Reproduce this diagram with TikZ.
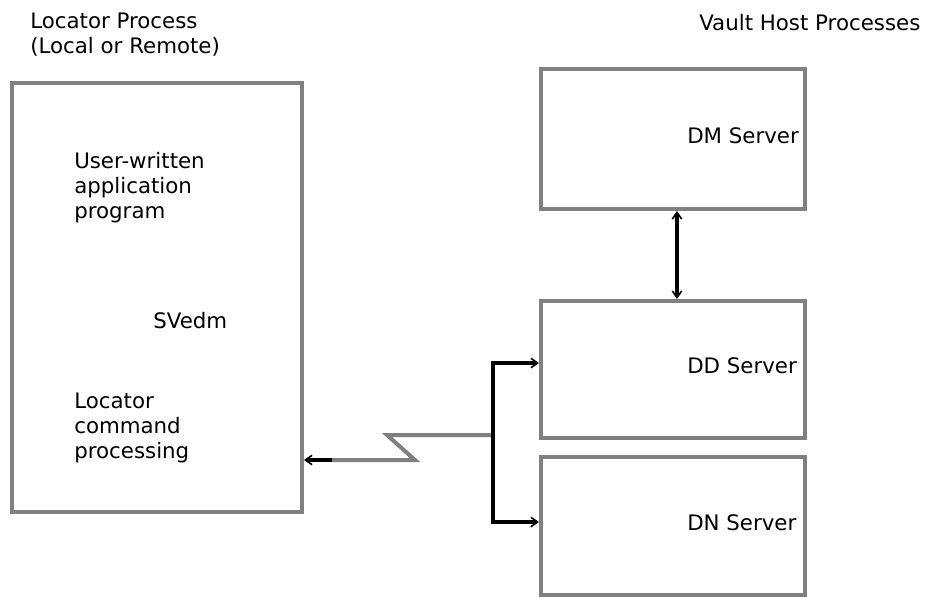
\documentclass[tikz,border=0pt]{standalone}
\usepackage{fontspec}
\setmainfont{DejaVu Sans}
\usetikzlibrary{arrows.meta}
\definecolor{boxgray}{rgb}{0.5, 0.5, 0.5}

\begin{document}
\begin{tikzpicture}[x=0.75pt,y=-0.75pt,
		font=\fontsize{16}{18.75}\selectfont,
		proc/.style={draw=boxgray,line width=3pt,minimum width=198pt,inner sep=0pt},
		txt/.style={anchor=base west,align=left,inner sep=0pt},
		barb/.tip={Straight Barb[length=5pt,width=7pt,line width=1.2pt]},
		link/.style={line width=3pt,color=black}]
		\useasboundingbox (0,0) rectangle (927,597);
		% locator side (base of a block = its last line)
		\node[proc, minimum width=217.5pt, minimum height=321.75pt] (loc) at (157,297.5) {};
		\node[txt] (loctitle) at (30,53) {Locator Process\\(Local or Remote)};
		\node[txt] (app) at (74,218) {User-written\\application\\program};
		\node[txt] (svedm) at (153,328) {SVedm};
		\node[txt] (cmd) at (74,458) {Locator\\command\\processing};
		% vault host side
		\node[txt] (vaulttitle) at (699,30) {Vault Host Processes};
		\foreach \n/\y/\h/\t in {dm/139/105/DM, dd/369.5/102.75/DD, dn/526/103.5/DN}{
			\node[proc, minimum height=\h pt] (\n) at (673,\y) {};
			\node[txt] (\n lbl) at (687,\y+4) {\t{} Server};
		}
		% connectors
		\draw[link, barb-barb] ([xshift=3pt]dm.south) -- ([xshift=3pt]dd.north);
		\coordinate (split) at (493,435);
		\coordinate (jogtop) at (387,435);
		\coordinate (jogbot) at (415,460);
		\coordinate (stub) at (332,460);
		\draw[boxgray, line width=3pt] (split) -- (jogtop) -- (jogbot) -- (stub);
		\draw[link, -barb] (stub) -- (loc.east |- stub);
		\draw[link, -barb] (split) |- (dd.west |- 0,363);
		\draw[link, -barb] (split) |- (dn.west |- 0,522);
	\end{tikzpicture}
\end{document}
